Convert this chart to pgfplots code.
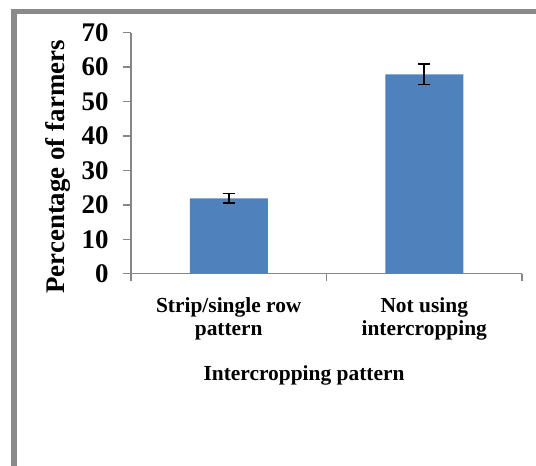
\documentclass[border=0pt]{standalone}
\usepackage{fontspec}
\setmainfont{Liberation Serif}
\usepackage{pgfplots}
\pgfplotsset{compat=1.18}
\definecolor{barblue}{HTML}{4F81BD}
\definecolor{axgray}{HTML}{868686}
\definecolor{framegray}{HTML}{8A8A8A}
\begin{document}
\begin{tikzpicture}
\useasboundingbox (0bp,0bp) rectangle (536bp,466bp);
\begin{scope}
  \clip (0bp,0bp) rectangle (536bp,466bp);
  \draw[framegray, line width=5.5bp] (14bp,-20bp) -- (14bp,454.5bp) -- (560bp,454.5bp);
\end{scope}
\begin{axis}[
  at={(131bp,192.3bp)}, anchor=south west,
  scale only axis, width=391bp, height=241bp,
  ymin=0, ymax=70, xmin=-0.5, xmax=1.5,
  axis lines*=left,
  axis line style={axgray, line width=1.5bp},
  tick align=outside,
  ytick={0,10,...,70},
  xtick={0,1},
  xticklabels={{Strip/single row\\pattern},{Not using\\intercropping}},
  minor xtick={-0.5,0.5,1.5},
  major tick length=8bp, minor tick length=7bp,
  every tick/.style={axgray, line width=1.5bp},
  every major x tick/.append style={draw=none},
  /pgf/number format/assume math mode=true,
  yticklabel style={font=\fontsize{27}{27}\selectfont\bfseries, xshift=-11bp},
  xticklabel style={font=\fontsize{21.5}{24}\selectfont\bfseries, align=center, yshift=-12bp},
  ylabel={Percentage of farmers},
  ylabel style={font=\fontsize{27}{27}\selectfont\bfseries, at={(rel axis cs:-0.169,0.443)}, anchor=base},
  xlabel={Intercropping pattern},
  xlabel style={font=\fontsize{21.5}{24}\selectfont\bfseries, at={(rel axis cs:0.4425,-0.445)}, anchor=base},
]
\addplot[ybar, bar width=78bp, fill=barblue, draw=none,
  error bars/.cd, y dir=both, y explicit,
  error bar style={draw=black, line width=1.6bp},
  error mark options={rotate=90, mark size=6.2bp, line width=1.6bp, draw=black}]
  coordinates {(0,21.9) +- (0,1.35) (1,57.9) +- (0,3.0)};
\end{axis}
\end{tikzpicture}
\end{document}
